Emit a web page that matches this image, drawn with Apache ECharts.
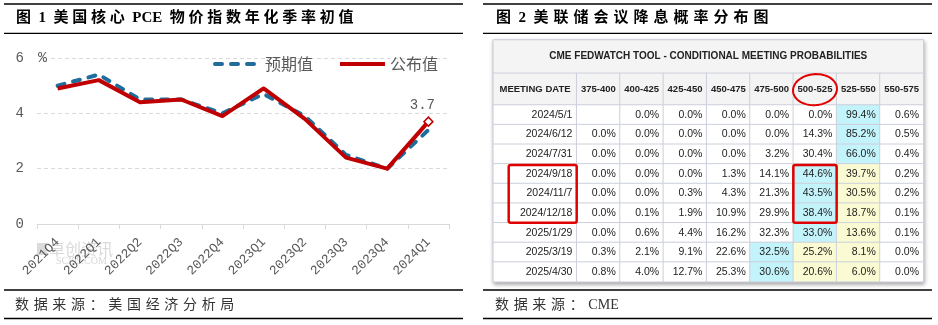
<!DOCTYPE html>
<html>
<head>
<meta charset="utf-8">
<script src="https://cdn.jsdelivr.net/npm/echarts@6/dist/echarts.min.js"></script>
<style>
  html, body { margin: 0; padding: 0; background: #fff; }
  #chart { width: 938px; height: 325px; }
</style>
</head>
<body>
<div id="chart"></div>
<script>
// ---- Figure 1: US core PCE price index, annualised q/q, first release ----
const quarters = ['2021Q4', '2022Q1', '2022Q2', '2022Q3', '2022Q4', '2023Q1', '2023Q2', '2023Q3', '2023Q4', '2024Q1'];
const expectedValues = [5.0, 5.4, 4.5, 4.5, 4.0, 4.7, 3.9, 2.5, 2.0, 3.4];   // 预期值
const actualValues   = [4.9, 5.2, 4.4, 4.5, 3.9, 4.9, 3.8, 2.4, 2.0, 3.7];   // 公布值
const yAxisMin = 0, yAxisMax = 6, yAxisStep = 2;

// ---- Figure 2: CME FedWatch conditional meeting probabilities (%) ----
const tableTitle = 'CME FEDWATCH TOOL - CONDITIONAL MEETING PROBABILITIES';
const dateHeader = 'MEETING DATE';
const meetingDates = ['2024/5/1', '2024/6/12', '2024/7/31', '2024/9/18', '2024/11/7', '2024/12/18', '2025/1/29', '2025/3/19', '2025/4/30'];
const rateRanges = ['375-400', '400-425', '425-450', '450-475', '475-500', '500-525', '525-550', '550-575'];
const probabilities = [
  [null, 0.0, 0.0,  0.0,  0.0,  0.0, 99.4, 0.6],
  [0.0,  0.0, 0.0,  0.0,  0.0, 14.3, 85.2, 0.5],
  [0.0,  0.0, 0.0,  0.0,  3.2, 30.4, 66.0, 0.4],
  [0.0,  0.0, 0.0,  1.3, 14.1, 44.6, 39.7, 0.2],
  [0.0,  0.0, 0.3,  4.3, 21.3, 43.5, 30.5, 0.2],
  [0.0,  0.1, 1.9, 10.9, 29.9, 38.4, 18.7, 0.1],
  [0.0,  0.6, 4.4, 16.2, 32.3, 33.0, 13.6, 0.1],
  [0.3,  2.1, 9.1, 22.6, 32.5, 25.2,  8.1, 0.0],
  [0.8,  4.0, 12.7, 25.3, 30.6, 20.6, 6.0, 0.0]
];
const currentRange = '525-550';
const markedDates = ['2024/9/18', '2024/11/7', '2024/12/18'];
const markedRange = '500-525';

const figureTitles = ['图 1 美国核心 PCE 物价指数年化季率初值', '图 2 美联储会议降息概率分布图'];
const sourceNotes = ['数据来源：美国经济分析局', '数据来源：CME'];

// ---- styling ----
const RED = '#c00000';
const BLUE = '#1f6d9c';
const GREY_TXT = '#595959';
const CELL_BORDER = '#cdd0db';
const HEAD_BG = '#f4f4f4';
const CYAN = '#c3f3fb';
const YELLOW = '#fbfbd3';
const CJK = '"Noto Sans CJK SC", "Noto Sans", sans-serif';
const NUM = '"Liberation Mono", "DejaVu Sans Mono", monospace';
const ARIAL = '"Liberation Sans", Arial, sans-serif';
const SERIF_CJK = '"Liberation Serif", "Noto Sans CJK SC", serif';

// widen the gaps between CJK glyphs, as in the report's typesetting
function spread(s, gap, space) {
  const ch = Array.from(s);
  let out = '';
  for (let i = 0; i < ch.length; i++) {
    const a = ch[i], b = ch[i + 1];
    out += a === ' ' ? space : a;
    if (b === undefined || a === ' ' || b === ' ') continue;
    if (a.charCodeAt(0) > 0x2e80 || b.charCodeAt(0) > 0x2e80) out += gap;
  }
  return out;
}

// cell shading: row maximum in cyan, cells between it and the current range in yellow
function cellColor(row, col) {
  const vals = probabilities[row];
  let maxCol = 0;
  vals.forEach((v, j) => { if (v != null && v > vals[maxCol]) maxCol = j; });
  const cur = rateRanges.indexOf(currentRange);
  if (col === maxCol) return CYAN;
  const lo = Math.min(maxCol, cur), hi = Math.max(maxCol, cur);
  if (maxCol !== cur && col > lo && col <= hi) return YELLOW;
  return '#ffffff';
}

const bodyCells = [];
probabilities.forEach((rowVals, r) => {
  rowVals.forEach((v, c) => {
    bodyCells.push({ value: [c, r, v == null ? 0 : v], itemStyle: { color: cellColor(r, c) } });
  });
});
const dateCells = meetingDates.map((d, r) => [0, r, 0]);
const headCells = rateRanges.map((d, c) => [c, 0, 0]);

// table geometry
const TX = 493.3, TY = 40, TITLE_H = 33.3, HEAD_H = 31.7, BODY_H = 176.7, DATE_W = 83.4, RANGE_W = 346.6;

function hiddenCat(gridIndex, data, inverse) {
  return { type: 'category', gridIndex, data, show: false, inverse: !!inverse,
           axisLine: { show: false }, axisTick: { show: false }, splitLine: { show: false } };
}

const cellStyle = { borderColor: CELL_BORDER, borderWidth: 1 };
const bodyLabel = { show: true, position: 'insideRight', distance: 5, fontFamily: ARIAL, fontSize: 10.5, color: '#222' };
const headLabel = { show: true, position: 'inside', fontFamily: ARIAL, fontSize: 9.5, fontWeight: 'bold', color: '#222' };

const chart = echarts.init(document.getElementById('chart'), null, { renderer: 'canvas' });

const ruleLine = (id, x1, x2, y, w) => ({ type: 'line', id, z: 10, shape: { x1, y1: y, x2, y2: y }, style: { stroke: '#000', lineWidth: w } });
const titleStyle = { fontFamily: SERIF_CJK, fontSize: 15, fontWeight: 'bold', color: '#000' };
const noteStyle = { fontFamily: SERIF_CJK, fontSize: 14, fontWeight: 'normal', color: '#333' };

chart.setOption({
  animation: false,
  backgroundColor: '#fff',
  title: [
    { text: spread(figureTitles[0], '\u2005', '\u2002'), left: 16, top: 11, padding: 0, textStyle: titleStyle },
    { text: spread(figureTitles[1], '\u2004', '\u2002'), left: 496, top: 11, padding: 0, textStyle: titleStyle },
    { text: spread(sourceNotes[0], '\u2004', ' '), left: 15, top: 298, padding: 0, textStyle: noteStyle },
    { text: spread(sourceNotes[1], '\u2004', ' '), left: 495, top: 298, padding: 0, textStyle: noteStyle }
  ],
  legend: {
    left: 208, top: 51, itemWidth: 45, itemHeight: 14, itemGap: 25,
    data: ['预期值', '公布值'],
    lineStyle: { width: 4 },
    itemStyle: { opacity: 0 },
    textStyle: { fontFamily: CJK, fontSize: 16, color: GREY_TXT }
  },
  grid: [
    { left: 37, top: 58, width: 412, height: 166 },
    { left: TX, top: TY, width: DATE_W + RANGE_W, height: TITLE_H },
    { left: TX, top: TY + TITLE_H, width: DATE_W, height: HEAD_H },
    { left: TX + DATE_W, top: TY + TITLE_H, width: RANGE_W, height: HEAD_H },
    { left: TX, top: TY + TITLE_H + HEAD_H, width: DATE_W, height: BODY_H },
    { left: TX + DATE_W, top: TY + TITLE_H + HEAD_H, width: RANGE_W, height: BODY_H }
  ],
  xAxis: [
    { type: 'category', gridIndex: 0, data: quarters, boundaryGap: true,
      axisLine: { lineStyle: { color: '#d9d9d9', width: 1 } },
      axisTick: { show: true, length: 5, lineStyle: { color: '#d9d9d9' } },
      axisLabel: { interval: 0, rotate: 45, margin: 16, fontFamily: NUM, fontSize: 13, color: GREY_TXT } },
    hiddenCat(1, ['t']),
    hiddenCat(2, [dateHeader]),
    hiddenCat(3, rateRanges),
    hiddenCat(4, [dateHeader]),
    hiddenCat(5, rateRanges)
  ],
  yAxis: [
    { type: 'value', gridIndex: 0, min: yAxisMin, max: yAxisMax, interval: yAxisStep,
      name: '%', nameLocation: 'end', nameGap: 0,
      nameTextStyle: { align: 'left', verticalAlign: 'middle', fontFamily: NUM, fontSize: 15, color: GREY_TXT,
                       backgroundColor: '#fff', padding: [0, 3, 0, 1] },
      axisLine: { show: false }, axisTick: { show: false },
      splitLine: { lineStyle: { color: '#d9d9d9', type: [4, 3], width: 1 } },
      axisLabel: { margin: 13, fontFamily: NUM, fontSize: 14, color: GREY_TXT } },
    hiddenCat(1, ['t']),
    hiddenCat(2, ['h']),
    hiddenCat(3, ['h']),
    hiddenCat(4, meetingDates, true),
    hiddenCat(5, meetingDates, true)
  ],
  series: [
    { name: '预期值', type: 'line', xAxisIndex: 0, yAxisIndex: 0, data: expectedValues,
      symbol: 'none', color: BLUE, z: 3,
      lineStyle: { color: BLUE, width: 4, type: [7, 9], cap: 'round', join: 'round' } },
    { name: '公布值', type: 'line', xAxisIndex: 0, yAxisIndex: 0, symbol: 'none', color: RED, z: 4,
      lineStyle: { color: RED, width: 4, join: 'round' },
      data: actualValues.map((v, i) => i === actualValues.length - 1
        ? { value: v, symbol: 'diamond', symbolSize: 9,
            itemStyle: { color: '#fff', borderColor: RED, borderWidth: 1.5 },
            label: { show: true, position: 'top', distance: 4, offset: [-6, 0], fontFamily: NUM, fontSize: 14, color: GREY_TXT,
                     formatter: p => p.value.toFixed(1) } }
        : v) },

    { type: 'heatmap', xAxisIndex: 1, yAxisIndex: 1, data: [[0, 0, 0]],
      itemStyle: Object.assign({ color: HEAD_BG }, cellStyle), emphasis: { disabled: true },
      label: Object.assign({}, headLabel, { fontSize: 10, formatter: () => tableTitle }) },
    { type: 'heatmap', xAxisIndex: 2, yAxisIndex: 2, data: [[0, 0, 0]],
      itemStyle: Object.assign({ color: HEAD_BG }, cellStyle), emphasis: { disabled: true },
      label: Object.assign({}, headLabel, { formatter: () => dateHeader }) },
    { type: 'heatmap', xAxisIndex: 3, yAxisIndex: 3, data: headCells,
      itemStyle: Object.assign({ color: HEAD_BG }, cellStyle), emphasis: { disabled: true },
      label: Object.assign({}, headLabel, { formatter: p => rateRanges[p.value[0]] }) },
    { type: 'heatmap', xAxisIndex: 4, yAxisIndex: 4, data: dateCells,
      itemStyle: Object.assign({ color: '#fff' }, cellStyle), emphasis: { disabled: true },
      label: Object.assign({}, bodyLabel, { formatter: p => meetingDates[p.value[1]] }) },
    { type: 'heatmap', xAxisIndex: 5, yAxisIndex: 5, data: bodyCells,
      itemStyle: cellStyle, emphasis: { disabled: true },
      label: Object.assign({}, bodyLabel, { formatter: p => {
        const v = probabilities[p.value[1]][p.value[0]];
        return v == null ? '' : v.toFixed(1) + '%';
      } }) }
  ],
  graphic: { elements: [
    ruleLine('l-top', 4, 463, 4, 1.6), ruleLine('l-title', 4, 463, 33.3, 1.3),
    ruleLine('l-src1', 4, 463, 290, 1.3), ruleLine('l-src2', 4, 463, 318.5, 1.3),
    ruleLine('r-top', 483, 932, 4, 1.6), ruleLine('r-title', 483, 932, 33.3, 1.3),
    ruleLine('r-src1', 483, 932, 290, 1.3), ruleLine('r-src2', 483, 932, 318.5, 1.3),
    // faint watermark of the data vendor
    { type: 'rect', id: 'wm-logo', z: 0, shape: { x: 37, y: 243, width: 10, height: 12 }, style: { fill: 'rgba(190,190,190,0.55)' } },
    { type: 'text', id: 'wm-cn', z: 0, style: { x: 49, y: 249, text: '卓创资讯', fontFamily: CJK, fontSize: 16, fill: 'rgba(185,185,185,0.55)', verticalAlign: 'middle' } },
    { type: 'text', id: 'wm-en', z: 0, style: { x: 56, y: 261, text: 'SCI99.COM', fontFamily: '"Liberation Serif", serif', fontSize: 10, fill: 'rgba(185,185,185,0.6)', verticalAlign: 'middle' } }
  ] }
});

// ---- table frame and hand-drawn highlights, placed through the table axes ----
const cellCenter = (gridIndex, x, y) => chart.convertToPixel({ gridIndex }, [x, y]);
const colStep = cellCenter(5, 1, 0)[0] - cellCenter(5, 0, 0)[0];
const rowStep = cellCenter(5, 0, 1)[1] - cellCenter(5, 0, 0)[1];
const r0 = meetingDates.indexOf(markedDates[0]);
const r1 = meetingDates.indexOf(markedDates[markedDates.length - 1]);
const boxTop = cellCenter(5, 0, r0)[1] - rowStep / 2 + 1;
const boxBottom = cellCenter(5, 0, r1)[1] + rowStep / 2;
const rangeLeft = cellCenter(5, 0, 0)[0] - colStep / 2;
const mc = rateRanges.indexOf(markedRange);
const markLeft = cellCenter(5, mc, 0)[0] - colStep / 2;
const headC = cellCenter(3, mc, 0);
const titleTop = cellCenter(1, 0, 0)[1] - TITLE_H / 2;
const bodyBottom = cellCenter(5, 0, meetingDates.length - 1)[1] + rowStep / 2;
const tableLeft = rangeLeft - DATE_W;
const tableRight = rangeLeft + colStep * rateRanges.length;

const ellipse = [];
for (let k = 0; k < 72; k++) {
  const t = k / 72 * Math.PI * 2, rot = -0.08;
  const ex = 22 * Math.cos(t), ey = 15.5 * Math.sin(t);
  ellipse.push([headC[0] + ex * Math.cos(rot) - ey * Math.sin(rot), headC[1] + 0.5 + ex * Math.sin(rot) + ey * Math.cos(rot)]);
}

chart.setOption({
  graphic: { elements: [
    { type: 'rect', id: 'tbl-frame', z: -1, shape: { x: tableLeft, y: titleTop, width: tableRight - tableLeft, height: bodyBottom - titleTop },
      style: { fill: '#fff', stroke: '#c9c9c9', lineWidth: 1, shadowBlur: 4, shadowOffsetX: 1, shadowOffsetY: 2, shadowColor: 'rgba(0,0,0,0.35)' } },
    { type: 'rect', id: 'mark-dates', z: 20, shape: { x: rangeLeft - 68, y: boxTop, width: 68, height: boxBottom - boxTop, r: 2 },
      style: { fill: 'none', stroke: '#e00000', lineWidth: 2.5 } },
    { type: 'rect', id: 'mark-range', z: 20, shape: { x: markLeft, y: boxTop, width: colStep, height: boxBottom - boxTop, r: 2 },
      style: { fill: 'none', stroke: '#e00000', lineWidth: 2.5 } },
    { type: 'polygon', id: 'mark-head', z: 20, shape: { points: ellipse },
      style: { fill: 'none', stroke: '#e00000', lineWidth: 2 } }
  ] }
});
</script>
</body>
</html>
